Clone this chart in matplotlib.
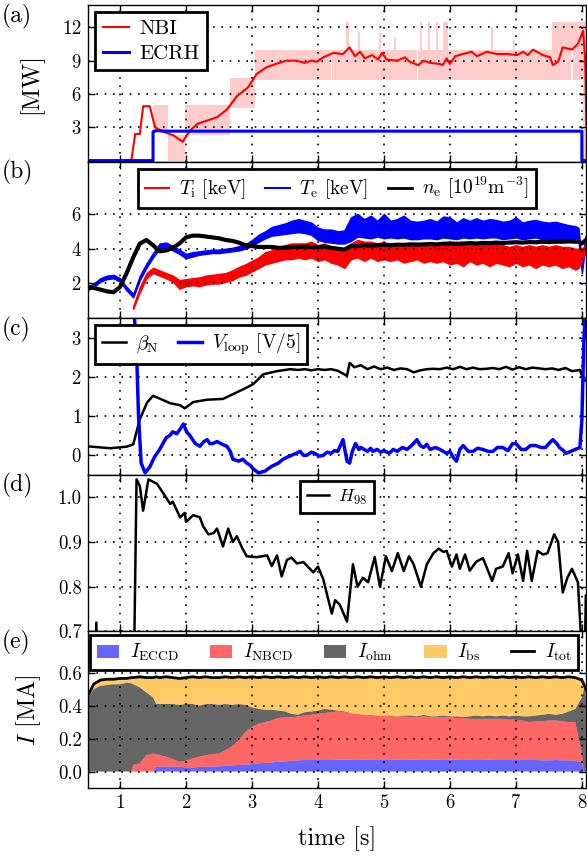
# Overview of a discharge: heating, profiles, beta/loop voltage, H98, current composition

import numpy as np
import matplotlib
matplotlib.use('Agg')
import matplotlib.pyplot as plt
from matplotlib.lines import Line2D

plt.rcParams['font.family'] = 'serif'
plt.rcParams['font.serif'] = ['cmr10']
plt.rcParams['mathtext.fontset'] = 'cm'
plt.rcParams['axes.formatter.use_mathtext'] = True

# ---------------- data ----------------
# (a) heating power [MW]
nbi_t = [0.5, 1.17, 1.23, 1.30, 1.35, 1.45, 1.53, 1.65, 1.80, 1.95, 2.06, 2.17, 2.32, 2.47, 2.62,
         2.77, 2.94, 3.07, 3.22, 3.36, 3.52, 3.67, 3.80, 3.90, 3.98, 4.08, 4.23, 4.38, 4.48, 4.56,
         4.64, 4.71, 4.82, 4.91, 4.97, 5.04, 5.20, 5.32, 5.39, 5.52, 5.60, 5.70, 5.85, 5.89, 5.95,
         6.00, 6.08, 6.20, 6.33, 6.41, 6.56, 6.71, 6.86, 7.02, 7.11, 7.18, 7.26, 7.41, 7.52, 7.56,
         7.64, 7.71, 7.85, 7.94, 8.02, 8.05, 8.07]
nbi = [0, 0, 2.4, 2.4, 4.9, 4.9, 3.0, 2.6, 2.3, 1.7, 2.7, 3.3, 3.6, 3.9, 4.6,
       5.8, 6.6, 7.8, 8.4, 8.7, 9.0, 9.0, 8.8, 9.0, 8.9, 9.3, 9.7, 9.6, 10.2, 9.4,
       9.8, 9.2, 9.5, 9.1, 9.7, 9.1, 9.0, 9.3, 8.9, 8.6, 9.0, 8.8, 8.7, 8.6, 9.2,
       8.7, 9.4, 9.6, 9.8, 9.4, 9.8, 9.6, 9.6, 9.5, 9.8, 9.5, 10.0, 9.5, 9.3, 8.6,
       8.9, 10.2, 10.0, 10.5, 11.7, 9.0, 3.0]

# raw (modulated) NBI power envelope, stepwise
nbi_raw_t = [1.50, 1.72, 1.98, 2.67, 3.05, 4.20, 4.22, 4.42, 4.47, 4.61, 4.64, 4.92, 4.95, 5.15, 5.18,
             5.50, 5.52, 5.54, 5.57, 5.67, 5.70, 5.79, 5.82, 5.90, 5.97, 6.62, 6.66, 6.95, 6.98, 7.55,
             7.84, 7.86, 8.02, 8.07]
nbi_raw_lo = [2.6, 0.0, 2.3, 4.7, 7.3, 10.0, 7.3, 7.3, 7.3, 7.3, 7.3, 7.3, 7.3, 7.3, 7.3,
              10.0, 7.3, 7.3, 7.3, 7.3, 7.3, 7.3, 7.3, 7.3, 7.3, 7.3, 7.3, 7.3, 7.3, 7.3,
              10.0, 7.3, 0.0, 0.0]
nbi_raw_hi = [5.0, 2.3, 5.0, 7.4, 10.0, 10.0, 10.0, 12.5, 10.0, 11.6, 10.0, 11.5, 10.0, 11.1, 10.0,
              10.0, 10.0, 12.5, 10.0, 12.5, 10.0, 12.5, 10.0, 12.5, 10.0, 12.0, 10.0, 10.9, 10.0, 12.5,
              12.5, 12.5, 12.5, 12.5]

ecrh_t = [0.5, 1.50, 1.50, 1.55, 1.70, 8.00, 8.00, 8.07]
ecrh = [0, 0, 2.6, 2.7, 2.65, 2.65, 0, 0]

# (b) temperatures [keV] and density [1e19 m^-3]
t_b = [0.5, 0.6, 0.7, 0.8, 0.9, 1.0, 1.1, 1.2, 1.3, 1.4, 1.5, 1.6, 1.7, 1.8, 1.9,
       2.0, 2.1, 2.2, 2.3, 2.4, 2.5, 2.6, 2.7, 2.8, 2.9, 3.0, 3.1, 3.2, 3.3, 3.4,
       3.5, 3.6, 3.7, 3.8, 3.9, 4.0, 4.1, 4.2, 4.3, 4.4, 4.5, 4.6, 4.7, 4.8, 4.9,
       5.0, 5.1, 5.2, 5.3, 5.4, 5.5, 5.6, 5.7, 5.8, 5.9, 6.0, 6.1, 6.2, 6.3, 6.4,
       6.5, 6.6, 6.7, 6.8, 6.9, 7.0, 7.1, 7.2, 7.3, 7.4, 7.5, 7.6, 7.7, 7.8, 7.9,
       7.95, 8.0, 8.03, 8.06]
te_lo = [1.6, 1.8, 2.1, 2.25, 2.3, 2.1, 1.6, 1.2, 2.2, 2.9, 3.5, 4.0, 4.05, 3.9, 3.7,
         3.45, 3.55, 3.65, 3.7, 3.75, 3.75, 3.8, 3.85, 3.9, 4.0, 4.15, 4.4, 4.6, 4.75, 4.8,
         4.85, 4.9, 4.95, 4.9, 4.8, 4.5, 4.4, 4.35, 4.3, 4.3, 4.45, 4.7, 4.65, 4.6, 4.7,
         4.6, 4.65, 4.6, 4.65, 4.55, 4.55, 4.6, 4.6, 4.55, 4.65, 4.6, 4.55, 4.65, 4.6, 4.65,
         4.6, 4.65, 4.65, 4.55, 4.6, 4.65, 4.55, 4.6, 4.65, 4.55, 4.55, 4.55, 4.5, 4.5, 4.45,
         4.4, 2.6, 3.5, 4.2]
te_hi = [1.8, 2.0, 2.3, 2.45, 2.5, 2.3, 1.8, 1.4, 2.45, 3.15, 3.75, 4.3, 4.35, 4.15, 3.95,
         3.7, 3.8, 3.85, 3.9, 3.95, 3.95, 4.0, 4.05, 4.15, 4.25, 4.5, 4.8, 5.0, 5.25, 5.35,
         5.45, 5.6, 5.7, 5.6, 5.5, 5.2, 5.1, 5.1, 5.0, 5.05, 5.8, 6.0, 5.7, 5.9, 5.6,
         6.0, 5.6, 5.7, 5.9, 5.6, 5.55, 5.6, 5.7, 5.55, 5.85, 5.8, 5.5, 5.75, 5.6, 5.75,
         5.6, 5.7, 5.65, 5.55, 5.6, 5.8, 5.5, 5.6, 5.65, 5.55, 5.5, 5.55, 5.45, 5.35, 5.3,
         5.2, 3.2, 4.1, 4.8]

t_ti = t_b[7:]
ti_lo = [0.55, 1.5, 2.3, 2.6, 2.45, 2.3, 2.1, 1.7,
         1.85, 1.9, 1.85, 1.95, 2.0, 2.0, 2.1, 2.2, 2.4, 2.5, 2.7, 2.9, 3.1, 3.2, 3.3,
         3.4, 3.4, 3.5, 3.4, 3.5, 3.3, 3.4, 3.2, 3.1, 2.9, 3.4, 3.5, 3.3, 3.5, 3.3,
         3.4, 3.3, 3.4, 3.2, 3.3, 3.4, 3.2, 3.3, 3.2, 3.3, 3.1, 3.2, 3.0, 3.3, 3.1,
         3.2, 3.0, 3.2, 3.1, 3.0, 3.2, 3.0, 3.1, 2.9, 3.1, 3.0, 3.1, 2.9, 3.0, 2.8,
         2.9, 3.3, 3.6, 3.7]
ti_hi = [0.7, 1.8, 2.6, 2.9, 2.75, 2.6, 2.45, 2.2,
         2.25, 2.3, 2.35, 2.45, 2.5, 2.55, 2.6, 2.75, 2.95, 3.1, 3.3, 3.5, 3.8, 3.9, 4.1,
         4.2, 4.3, 4.3, 4.3, 4.4, 4.2, 4.3, 4.1, 4.0, 3.9, 4.3, 4.5, 4.4, 4.4, 4.3,
         4.4, 4.2, 4.3, 4.2, 4.3, 4.2, 4.3, 4.2, 4.3, 4.4, 4.2, 4.3, 4.2, 4.3, 4.2,
         4.2, 4.2, 4.3, 4.2, 4.1, 4.2, 4.1, 4.2, 4.1, 4.2, 4.1, 4.2, 4.1, 4.1, 4.0,
         4.0, 4.0, 4.1, 4.3]

ne = [1.8, 1.75, 1.65, 1.55, 1.5, 1.8, 2.6, 3.5, 4.3, 4.5, 4.2, 3.85, 3.9, 4.05, 4.3,
      4.65, 4.75, 4.75, 4.7, 4.65, 4.6, 4.5, 4.45, 4.35, 4.2, 4.15, 4.1, 4.1, 4.1, 4.05,
      4.05, 4.1, 4.1, 4.12, 4.1, 4.1, 4.12, 4.05, 4.0, 3.95, 4.15, 4.15, 4.2, 4.18, 4.2,
      4.22, 4.2, 4.23, 4.22, 4.25, 4.24, 4.25, 4.27, 4.25, 4.28, 4.3, 4.28, 4.3, 4.32, 4.3,
      4.33, 4.32, 4.35, 4.33, 4.35, 4.37, 4.35, 4.38, 4.37, 4.4, 4.38, 4.4, 4.4, 4.42, 4.4,
      4.4, 4.3, 4.4, 4.5]

# (c) normalised beta and loop voltage [V/5]
beta_t = [0.5, 0.85, 1.1, 1.2, 1.3, 1.41, 1.5, 1.6, 1.76, 1.91, 1.98, 2.11, 2.32, 2.56, 2.71,
          2.92, 3.02, 3.17, 3.38, 3.58, 3.7, 3.8, 3.9, 4.0, 4.1, 4.2, 4.3, 4.44, 4.48, 4.55,
          4.65, 4.75, 4.85, 4.95, 5.05, 5.15, 5.25, 5.35, 5.45, 5.55, 5.65, 5.75, 5.85, 5.95, 6.05,
          6.15, 6.25, 6.35, 6.45, 6.55, 6.65, 6.75, 6.85, 6.95, 7.05, 7.15, 7.25, 7.35, 7.45, 7.55,
          7.65, 7.75, 7.85, 7.97, 8.02, 8.06]
beta_n = [0.23, 0.18, 0.22, 0.28, 0.92, 1.35, 1.52, 1.45, 1.33, 1.28, 1.2, 1.36, 1.42, 1.44, 1.56,
          1.73, 1.82, 2.07, 2.15, 2.2, 2.18, 2.2, 2.17, 2.2, 2.18, 2.2, 2.16, 2.03, 2.36, 2.25,
          2.3, 2.2, 2.27, 2.2, 2.24, 2.18, 2.22, 2.2, 2.12, 2.17, 2.2, 2.21, 2.2, 2.24, 2.2,
          2.26, 2.2, 2.24, 2.2, 2.21, 2.23, 2.2, 2.26, 2.19, 2.25, 2.2, 2.24, 2.22, 2.2, 2.22,
          2.18, 2.23, 2.15, 2.18, 1.95, 1.9]

vloop_t = [0.5, 0.84, 1.2, 1.25, 1.28, 1.32, 1.38, 1.45, 1.52, 1.6, 1.65, 1.7, 1.75, 1.8, 1.86,
           1.91, 1.96, 2.01, 2.06, 2.1, 2.14, 2.21, 2.27, 2.32, 2.36, 2.4, 2.47, 2.55, 2.62, 2.67,
           2.71, 2.8, 2.86, 2.92, 2.97, 3.02, 3.1, 3.2, 3.3, 3.4, 3.47, 3.53, 3.6, 3.67, 3.73,
           3.78, 3.83, 3.9, 3.95, 4.02, 4.08, 4.14, 4.2, 4.25, 4.3, 4.38, 4.44, 4.48, 4.52, 4.57,
           4.62, 4.65, 4.7, 4.75, 4.8, 4.83, 4.9, 4.95, 5.0, 5.08, 5.14, 5.2, 5.28, 5.35, 5.42,
           5.5, 5.55, 5.6, 5.65, 5.7, 5.78, 5.85, 5.9, 5.95, 6.0, 6.05, 6.1, 6.15, 6.2, 6.28,
           6.35, 6.42, 6.5, 6.58, 6.65, 6.72, 6.8, 6.88, 6.95, 7.0, 7.08, 7.15, 7.22, 7.3, 7.38,
           7.45, 7.5, 7.56, 7.62, 7.66, 7.72, 7.76, 7.83, 7.9, 7.97, 8.0, 8.03, 8.06]
vloop = [4.5, 4.0, 4.0, 2.7, 1.0, -0.2, -0.45, -0.3, -0.05, 0.15, 0.3, 0.45, 0.5, 0.6, 0.55,
         0.67, 0.8, 0.6, 0.5, 0.4, 0.3, 0.23, 0.35, 0.4, 0.3, 0.3, 0.35, 0.28, 0.23, 0.1,
         -0.1, -0.15, -0.1, -0.2, -0.25, -0.35, -0.45, -0.4, -0.28, -0.2, -0.1, -0.05, 0.0, 0.05, 0.1,
         0.0, 0.0, 0.08, 0.05, -0.02, 0.0, 0.08, 0.05, 0.12, 0.1, 0.4, -0.15, -0.2, 0.1, 0.3,
         0.15, 0.2, 0.15, 0.1, 0.18, 0.1, 0.15, 0.08, 0.12, 0.05, 0.15, 0.1, 0.2, 0.15, 0.25,
         0.4, 0.25, 0.2, 0.28, 0.15, 0.2, 0.15, 0.1, 0.05, 0.1, -0.05, -0.15, 0.15, 0.25, 0.1,
         0.1, 0.18, 0.15, 0.1, 0.1, 0.2, 0.2, 0.12, 0.3, 0.3, 0.15, 0.15, 0.25, 0.25, 0.2,
         0.2, 0.3, 0.4, 0.3, 0.2, 0.12, 0.05, 0.1, 0.15, 0.2, 0.9, 2.9, 4.0]

# (d) confinement factor
h98_t = [0.5, 0.62, 0.64, 0.66, 1.2, 1.25, 1.3, 1.35, 1.43, 1.56, 1.65, 1.76, 1.8, 1.91, 1.98,
         2.0, 2.11, 2.21, 2.26, 2.34, 2.42, 2.47, 2.56, 2.64, 2.71, 2.77, 2.85, 2.92, 3.07, 3.23,
         3.3, 3.38, 3.45, 3.53, 3.6, 3.68, 3.78, 3.93, 4.0, 4.08, 4.13, 4.21, 4.26, 4.33, 4.44,
         4.53, 4.6, 4.68, 4.76, 4.86, 4.94, 5.03, 5.12, 5.21, 5.3, 5.38, 5.45, 5.56, 5.65, 5.75,
         5.83, 5.9, 5.95, 6.03, 6.1, 6.15, 6.23, 6.3, 6.4, 6.5, 6.64, 6.7, 6.8, 6.89, 6.95,
         7.03, 7.11, 7.17, 7.24, 7.33, 7.41, 7.48, 7.58, 7.64, 7.71, 7.78, 7.85, 7.94, 8.02, 8.04,
         8.06]
h98 = [0.5, 0.5, 0.72, 0.5, 0.5, 1.04, 1.025, 0.97, 1.04, 1.03, 1.01, 0.985, 0.99, 0.955, 0.965,
       0.945, 0.96, 0.955, 0.935, 0.917, 0.92, 0.93, 0.89, 0.93, 0.9, 0.913, 0.887, 0.868, 0.866, 0.87,
       0.846, 0.87, 0.823, 0.86, 0.865, 0.852, 0.855, 0.832, 0.845, 0.817, 0.787, 0.74, 0.77, 0.76, 0.722,
       0.85, 0.8, 0.82, 0.81, 0.866, 0.8, 0.868, 0.835, 0.875, 0.835, 0.868, 0.85, 0.8, 0.85, 0.875,
       0.885, 0.878, 0.88, 0.845, 0.872, 0.84, 0.872, 0.836, 0.856, 0.864, 0.813, 0.84, 0.845, 0.875, 0.83,
       0.872, 0.813, 0.88, 0.813, 0.88, 0.872, 0.875, 0.917, 0.9, 0.787, 0.82, 0.84, 0.81, 0.6, 0.6,
       0.78]

# (e) current composition [MA]
t_e = [0.5, 0.6, 0.7, 0.8, 0.9, 1.0, 1.1, 1.17, 1.2, 1.3, 1.4, 1.5, 1.55, 1.6, 1.7,
       1.8, 1.9, 2.0, 2.1, 2.2, 2.3, 2.4, 2.5, 2.6, 2.7, 2.8, 2.9, 3.0, 3.1, 3.2,
       3.3, 3.4, 3.5, 3.6, 3.7, 3.8, 3.9, 4.0, 4.1, 4.2, 4.3, 4.4, 4.5, 4.6, 4.7,
       4.8, 4.9, 5.0, 5.1, 5.2, 5.3, 5.4, 5.5, 5.6, 5.7, 5.8, 5.9, 6.0, 6.1, 6.2,
       6.3, 6.4, 6.5, 6.6, 6.7, 6.8, 6.9, 7.0, 7.1, 7.2, 7.3, 7.4, 7.5, 7.6, 7.7,
       7.8, 7.9, 8.0, 8.03, 8.06]
i_eccd = [0, 0, 0, 0, 0, 0, 0, 0, 0, 0, 0, 0, 0.03, 0.03, 0.03,
          0.03, 0.03, 0.025, 0.025, 0.028, 0.03, 0.03, 0.032, 0.035, 0.038, 0.04, 0.042, 0.045, 0.05, 0.052,
          0.055, 0.06, 0.062, 0.065, 0.068, 0.07, 0.07, 0.07, 0.07, 0.07, 0.072, 0.072, 0.072, 0.07, 0.072,
          0.07, 0.072, 0.072, 0.072, 0.072, 0.074, 0.072, 0.072, 0.074, 0.072, 0.072, 0.07, 0.072, 0.072, 0.07,
          0.072, 0.07, 0.07, 0.072, 0.07, 0.07, 0.07, 0.07, 0.07, 0.07, 0.07, 0.068, 0.068, 0.07, 0.068,
          0.068, 0.065, 0.06, 0, 0]
i_nbcd = [0, 0, 0, 0, 0, 0, 0, 0, 0.04, 0.05, 0.10, 0.11, 0.075, 0.07, 0.06,
          0.045, 0.03, 0.04, 0.055, 0.062, 0.07, 0.075, 0.078, 0.095, 0.117, 0.15, 0.198, 0.225, 0.24, 0.248,
          0.255, 0.265, 0.268, 0.265, 0.267, 0.27, 0.275, 0.28, 0.285, 0.29, 0.293, 0.288, 0.283, 0.28, 0.273,
          0.275, 0.268, 0.268, 0.263, 0.263, 0.261, 0.258, 0.258, 0.261, 0.258, 0.258, 0.26, 0.258, 0.253, 0.255,
          0.248, 0.25, 0.25, 0.248, 0.25, 0.25, 0.245, 0.245, 0.24, 0.23, 0.235, 0.237, 0.242, 0.24, 0.237,
          0.232, 0.235, 0.05, 0, 0]
i_ohm = [0.44, 0.50, 0.52, 0.525, 0.53, 0.53, 0.54, 0.535, 0.49, 0.46, 0.38, 0.34, 0.305, 0.31, 0.32,
         0.335, 0.345, 0.345, 0.33, 0.31, 0.31, 0.305, 0.295, 0.28, 0.25, 0.22, 0.165, 0.12, 0.09, 0.075,
         0.065, 0.045, 0.035, 0.02, 0.01, 0.02, 0.02, 0.02, 0.025, 0.015, 0.005, 0.005, 0, 0, 0,
         0, 0, 0, 0.005, 0, 0.005, 0.01, 0.005, 0.01, 0.005, 0.005, 0.01, 0.005, 0.01, 0.005,
         0.015, 0.02, 0.015, 0.02, 0.015, 0.02, 0.02, 0.025, 0.025, 0.035, 0.035, 0.04, 0.04, 0.035, 0.045,
         0.065, 0.08, 0.34, 0.50, 0.50]
i_bs = [0.01, 0.03, 0.035, 0.035, 0.03, 0.035, 0.025, 0.035, 0.04, 0.065, 0.09, 0.12, 0.165, 0.16, 0.165,
        0.16, 0.16, 0.16, 0.165, 0.17, 0.165, 0.16, 0.165, 0.165, 0.165, 0.165, 0.165, 0.185, 0.19, 0.2,
        0.195, 0.205, 0.205, 0.225, 0.225, 0.215, 0.205, 0.205, 0.19, 0.2, 0.2, 0.21, 0.215, 0.225, 0.225,
        0.23, 0.23, 0.235, 0.23, 0.24, 0.23, 0.235, 0.235, 0.23, 0.235, 0.24, 0.23, 0.24, 0.235, 0.245,
        0.235, 0.235, 0.235, 0.235, 0.235, 0.235, 0.235, 0.235, 0.235, 0.24, 0.23, 0.23, 0.22, 0.23, 0.22,
        0.21, 0.19, 0.105, 0.03, 0.0]
i_tot = [0.45, 0.53, 0.555, 0.56, 0.56, 0.565, 0.565, 0.57, 0.57, 0.575, 0.57, 0.57, 0.575, 0.57, 0.575,
         0.57, 0.565, 0.57, 0.575, 0.57, 0.575, 0.57, 0.57, 0.575, 0.57, 0.575, 0.57, 0.575, 0.57, 0.575,
         0.57, 0.575, 0.57, 0.575, 0.57, 0.575, 0.57, 0.575, 0.57, 0.575, 0.57, 0.575, 0.57, 0.575, 0.57,
         0.575, 0.57, 0.575, 0.57, 0.575, 0.57, 0.575, 0.57, 0.575, 0.57, 0.575, 0.57, 0.575, 0.57, 0.575,
         0.57, 0.575, 0.57, 0.575, 0.57, 0.575, 0.57, 0.575, 0.57, 0.575, 0.57, 0.575, 0.57, 0.575, 0.57,
         0.575, 0.57, 0.555, 0.53, 0.50]

# ---------------- figure ----------------
fig, axs = plt.subplots(5, 1, sharex=True, figsize=(5.87, 8.56), dpi=100)
fig.subplots_adjust(left=0.15, right=0.998, top=0.994, bottom=0.0794, hspace=0)

def style_legend(leg):
    leg.get_frame().set_linewidth(2)
    leg.get_frame().set_edgecolor('black')

def leg_kw(size):
    return dict(fontsize=size, fancybox=False, framealpha=1, edgecolor='black',
                handlelength=1.25, handletextpad=0.5, borderpad=0.35, borderaxespad=0.35,
                labelspacing=0.3)

# (a) heating
ax = axs[0]
ax.fill_between(nbi_raw_t, nbi_raw_lo, nbi_raw_hi, step='post', color='red', alpha=0.2, lw=0)
ax.plot(nbi_t, nbi, color='red', lw=1.5, label='NBI')
ax.plot(ecrh_t, ecrh, color='blue', lw=2.2, label='ECRH')
ax.set_ylim(-0.1, 14)
ax.set_yticks([3, 6, 9, 12])
ax.set_ylabel('[MW]', fontsize=17.5)
style_legend(ax.legend(loc='upper left', **leg_kw(15)))

# (b) temperatures and density
ax = axs[1]
ax.fill_between(t_b, te_lo, te_hi, color='blue', lw=1)
ax.fill_between(t_ti, ti_lo, ti_hi, color='red', lw=1)
ax.plot(t_b, ne, color='black', lw=3)
handles = [Line2D([], [], color='red', lw=1.5), Line2D([], [], color='blue', lw=1.5),
           Line2D([], [], color='black', lw=2)]
labels = [r'$T_\mathrm{i}$ [keV]', r'$T_\mathrm{e}$ [keV]', r'$n_\mathrm{e}$ [$10^{19}\mathrm{m}^{-3}$]']
style_legend(ax.legend(handles, labels, loc='upper center', ncol=3, columnspacing=1.0, **leg_kw(14)))
ax.set_ylim(0, 9)
ax.set_yticks([2, 4, 6])

# (c) beta and loop voltage
ax = axs[2]
ax.plot(beta_t, beta_n, color='black', lw=1.8, label=r'$\beta_\mathrm{N}$')
ax.plot(vloop_t, vloop, color='blue', lw=2.5, label=r'$V_\mathrm{loop}$ [V/5]')
ax.set_ylim(-0.5, 3.5)
ax.set_yticks([0, 1, 2, 3])
style_legend(ax.legend(loc='upper left', ncol=2, columnspacing=1.0, **leg_kw(14)))

# (d) H98
ax = axs[3]
ax.plot(h98_t, h98, color='black', lw=1.8, label=r'$H_{98}$')
ax.set_ylim(0.7, 1.05)
ax.set_yticks([0.7, 0.8, 0.9, 1.0])
ax.yaxis.set_major_formatter(matplotlib.ticker.FormatStrFormatter('%.1f'))
style_legend(ax.legend(loc='upper center', **leg_kw(13)))

# (e) current composition
ax = axs[4]
ax.stackplot(t_e, i_eccd, i_nbcd, i_ohm, i_bs,
             colors=['blue', 'red', 'black', 'orange'], alpha=0.6,
             labels=[r'$I_\mathrm{ECCD}$', r'$I_\mathrm{NBCD}$', r'$I_\mathrm{ohm}$', r'$I_\mathrm{bs}$'])
ax.plot(t_e, i_tot, color='black', lw=2, label=r'$I_\mathrm{tot}$')
ax.set_ylim(-0.1, 0.85)
ax.set_yticks([0.0, 0.2, 0.4, 0.6])
ax.yaxis.set_major_formatter(matplotlib.ticker.FormatStrFormatter('%.1f'))
ax.set_ylabel(r'$I$ [MA]', fontsize=17.5)
kw = leg_kw(14)
kw.update(borderaxespad=0, handlelength=1.15, handletextpad=0.55)
leg = ax.legend(loc='upper left', ncol=5, bbox_to_anchor=(0.004, 0.975),
                columnspacing=1.6, **kw)
style_legend(leg)

ax.set_xlim(0.515, 8.06)
ax.set_xticks([1, 2, 3, 4, 5, 6, 7, 8])
ax.set_xlabel('time [s]', fontsize=17.5)
ax.xaxis.set_label_coords(0.5, -0.245)

# common styling
for ax, tag in zip(axs, 'abcde'):
    ax.grid(True, ls=(0, (1, 4)), color='black', lw=1.2)
    ax.tick_params(direction='in', top=True, right=True, length=5, width=1, labelsize=13.5, pad=4.5)
    for sp in ax.spines.values():
        sp.set_linewidth(1)
        sp.set_color('black')
    ax.yaxis.set_label_coords(-0.09, 0.5)
    ax.text(-0.173, 0.93, '(%s)' % tag, transform=ax.transAxes, ha='left', va='center', fontsize=17)

fig.savefig('out.png', dpi=100)
